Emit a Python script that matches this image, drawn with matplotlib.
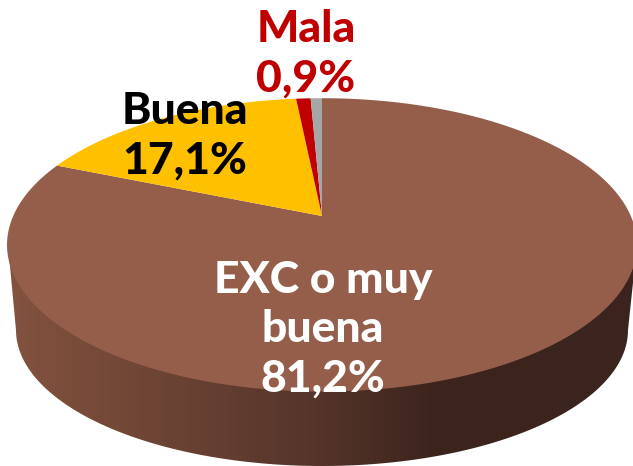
import matplotlib
matplotlib.use('Agg')
import matplotlib.pyplot as plt
from matplotlib.colors import LinearSegmentedColormap
from matplotlib.patches import Polygon
import numpy as np

categories = ['EXC o muy\nbuena', 'Buena', 'Mala', 'Otros']
values = [81.2, 17.1, 0.9, 0.7]
value_labels = ['81,2%', '17,1%', '0,9%']
colors = ['#955e4a', '#ffc000', '#c00000', '#a6a6a6']

plt.rcParams['font.family'] = ['Lato', 'DejaVu Sans']

fig = plt.figure(figsize=(6.33, 4.66), dpi=100)
ax = fig.add_axes([0, 0, 1, 1])
ax.set_xlim(0, 633)
ax.set_ylim(466, 0)
ax.axis('off')

# pie top seen in perspective, apex of the slices at (cx, cy)
cx, cy = 322, 216
a, b, p = 308.8, 141, 0.197


def top_face(angle):
    # angle in degrees clockwise from the top of the pie
    t = np.radians(angle)
    u, v = np.sin(t), np.cos(t)
    w = 1 + p * v
    return cx + a * u / w, cy - b * v / w


# side of the pie, a gradient clipped to the lower outline
t = np.linspace(0, np.pi, 200)
low_x = 322 - 306 * np.cos(t)
low_y = 330 + 136 * np.sin(t)
side = Polygon(np.column_stack([np.r_[8, low_x, 637], np.r_[245, low_y, 245]]), closed=True,
               facecolor='none', edgecolor='none')
ax.add_patch(side)
cmap = LinearSegmentedColormap.from_list('side', [(0, '#84543f'), (0.5, '#55342a'), (0.68, '#3d251e'), (1, '#3b241d')])
im = ax.imshow(np.linspace(0, 1, 633).reshape(1, -1), extent=(0, 633, 466, 200), aspect='auto', cmap=cmap, zorder=1)
im.set_clip_path(side)
ax.set_xlim(0, 633)
ax.set_ylim(466, 0)

# slices
start = 0
scale = 360 / sum(values)
for value, color in zip(values, colors):
    angles = np.linspace(start, start + value * scale, max(int(value * 8), 4))
    x, y = top_face(angles)
    ax.fill(np.r_[cx, x], np.r_[cy, y], color=color, lw=0, zorder=2)
    start += value * scale

style = dict(fontsize=32, fontweight='black', ha='center', va='center', linespacing=1.28, zorder=3)
ax.text(323, 329, categories[0] + '\n' + value_labels[0], color='white', **style)
ax.text(185, 136, categories[1] + '\n' + value_labels[1], color='black', **style)
ax.text(306, 54, categories[2] + '\n' + value_labels[2], color='#c00000', **style)

fig.savefig('out.png', dpi=100)
